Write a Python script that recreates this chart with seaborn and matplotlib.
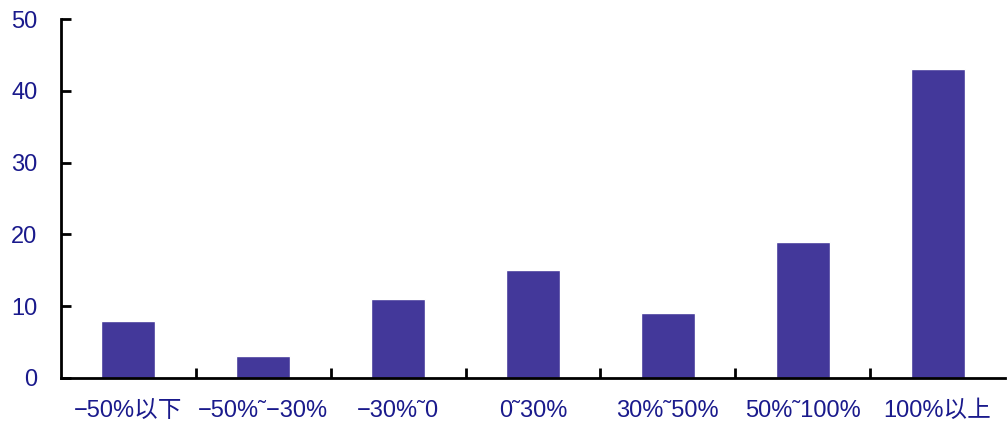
import matplotlib
matplotlib.use("Agg")
import matplotlib.pyplot as plt
import seaborn as sns
import pandas as pd
from matplotlib.ticker import FixedLocator

categories = ["−50%以下", "−50%˜−30%", "−30%˜0", "0˜30%", "30%˜50%", "50%˜100%", "100%以上"]
values = [8, 3, 11, 15, 9, 19, 43]

sns.set_theme(style="white")
plt.rcParams['font.family'] = ['Liberation Sans', 'Noto Sans CJK SC', 'DejaVu Sans']

df = pd.DataFrame({"cat": categories, "val": values})

fig = plt.figure(figsize=(10.07, 4.26), dpi=100)
ax = fig.add_axes([61/1007, 1 - 378/426, (1005-61)/1007, (378-19)/426])
sns.barplot(data=df, x="cat", y="val", color="#43389A", saturation=1, width=0.4, ax=ax)

ax.set_xlim(-0.5, len(categories) - 0.5)
ax.set_ylim(0, 50)
ax.set_yticks(range(0, 51, 10))
ax.set_xlabel("")
ax.set_ylabel("")

for s in ["top", "right"]:
    ax.spines[s].set_visible(False)
for s in ["left", "bottom"]:
    ax.spines[s].set_color("black")
    ax.spines[s].set_linewidth(2)

navy = "#1A1A8C"
ax.tick_params(axis="y", direction="in", length=7, width=2, color="black",
               labelsize=17, labelcolor=navy, pad=17, left=True)
ax.xaxis.set_major_locator(FixedLocator([i + 0.5 for i in range(len(categories) - 1)]))
ax.xaxis.set_minor_locator(FixedLocator(list(range(len(categories)))))
ax.set_xticklabels([], minor=False)
ax.set_xticklabels(categories, minor=True)
ax.tick_params(axis="x", which="major", direction="in", length=7, width=2, color="black", bottom=True)
ax.tick_params(axis="x", which="minor", length=0, labelsize=17, labelcolor=navy, pad=16)

fig.savefig("out.png", dpi=100)
